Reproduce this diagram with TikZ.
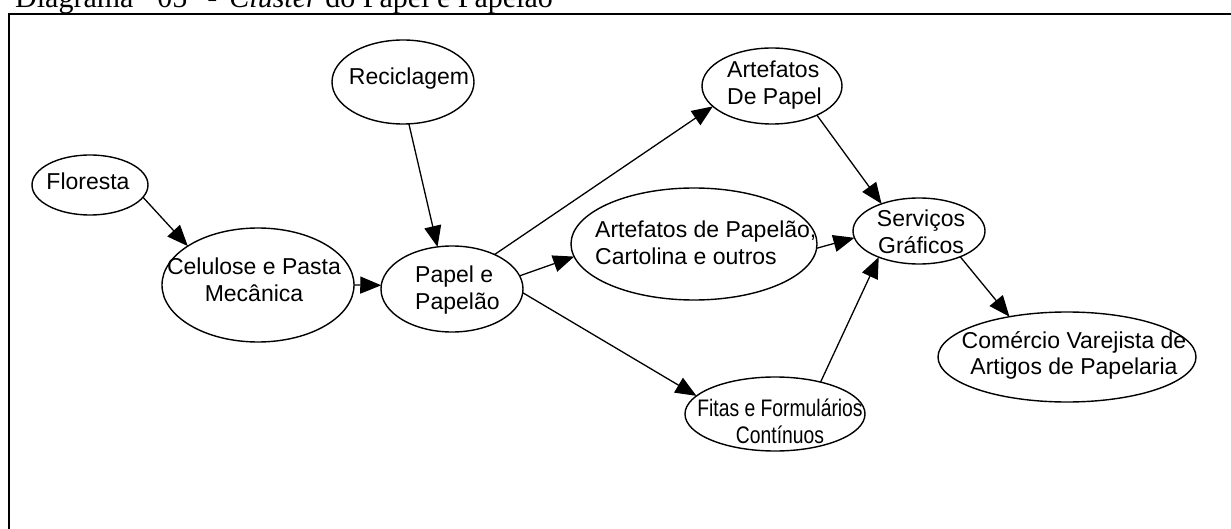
\documentclass[tikz,border=0pt]{standalone}
\usepackage{fontspec}
\setmainfont{Liberation Sans}
\newfontfamily\titlefont{Liberation Serif}
\usetikzlibrary{arrows.meta,shapes.geometric}
% two-line label whose baseline is the baseline of its first line
\newcommand\twoline[3]{\begin{tabular}[t]{@{}#1@{}}#2\\#3\end{tabular}}

\begin{document}
\begin{tikzpicture}[x=1pt,y=-1pt,
  bubble/.style={draw, ellipse, line width=1.4pt, inner sep=0pt, outer sep=0pt},
  txt/.style={inner sep=0pt, anchor=base, font=\fontsize{23}{26.5}\selectfont},
  txtl/.style={txt, anchor=base west},
  flow/.style={line width=1.3pt, -{Triangle[length=21pt,width=17pt]}},
  frame/.style={line width=2pt}]
\useasboundingbox (0,0) rectangle (1231,529);

% heading (its upper half runs off the page) and frame
\node[anchor=base west, inner sep=0pt, font=\titlefont\fontsize{30}{36}\selectfont] (title) at (15,8)
  {Diagrama\hspace{24pt}05\hspace{20pt}-\hspace{12pt}\textit{Cluster} do Papel e Papelão};
\coordinate (fr-top) at (1240,14);
\coordinate (fr-corner) at (9,14);
\coordinate (fr-bot) at (9,540);
\draw[frame] (fr-top) -- (fr-corner) -- (fr-bot);

% ellipses
\node[bubble, minimum width=116, minimum height=60]  (flo) at (90,185) {};
\node[bubble, minimum width=142, minimum height=84]  (rec) at (403,82) {};
\node[bubble, minimum width=192, minimum height=114] (cel) at (258,285) {};
\node[bubble, minimum width=142, minimum height=86]  (pap) at (452,289) {};
\node[bubble, minimum width=140, minimum height=76]  (adp) at (772,86) {};
\node[bubble, minimum width=246, minimum height=112] (apc) at (694,244) {};
\node[bubble, minimum width=132, minimum height=66]  (srv) at (919,231) {};
\node[bubble, minimum width=258, minimum height=90]  (com) at (1067,357) {};
\node[bubble, minimum width=180, minimum height=74]  (fit) at (775,414) {};

% labels
\node[txt]  (flo-t) at (88,190)  {Floresta};
\node[txt]  (rec-t) at (409,85)  {Reciclagem};
\node[txt]  (cel-t) at (254,275) {\twoline{c}{Celulose e Pasta}{Mecânica}};
\node[txtl] (pap-t) at (415,283) {\twoline{l}{Papel e}{Papelão}};
\node[txtl] (adp-t) at (727,78)  {\twoline{l}{Artefatos}{De Papel}};
\node[txtl] (apc-t) at (595,238) {\twoline{l}{Artefatos de Papelão,}{Cartolina e outros}};
\node[txt]  (srv-t) at (921,227) {\twoline{c}{Serviços}{Gráficos}};
\node[txt]  (com-t) at (1074,348) {\twoline{c}{Comércio Varejista de}{Artigos de Papelaria}};
\node[txt]  (fit-t) at (780,416) {\scalebox{0.84}[1.04]{\twoline{c}{Fitas e Formulários}{Contínuos}}};

% connectors
\draw[flow] (flo.-13) -- (cel.151);
\draw[flow] (rec.-82) -- (pap.109);
\draw[flow] (cel.0)   -- (pap.177);
\draw[flow] (pap.39)  -- (adp.199);
\draw[flow] (pap.11)  -- (apc.186);
\draw[flow] (pap.-3)  -- (fit.167);
\draw[flow] (adp.-33) -- (srv.144);
\draw[flow] (apc.-2)  -- (srv.186);
\draw[flow] (fit.35)  -- (srv.213);
\draw[flow] (srv.-32) -- (com.145);
\end{tikzpicture}
\end{document}
